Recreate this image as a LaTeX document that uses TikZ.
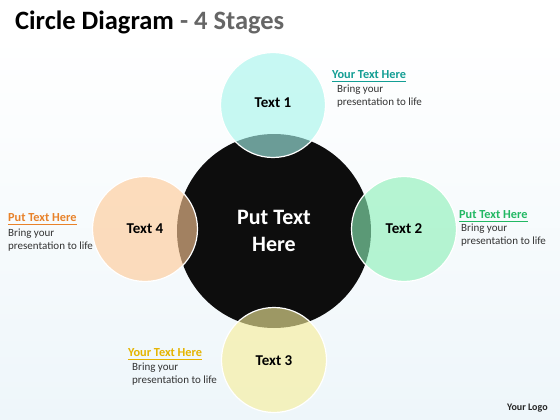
\documentclass[tikz,border=0pt]{standalone}
\usepackage{fontspec}
\setmainfont{Carlito}
\begin{document}
\begin{tikzpicture}[x=1pt,y=-1pt,
  stage/.style={circle,minimum size=105pt,inner sep=0pt,draw=white,line width=1.2pt,fill opacity=0.62},
  lbl/.style={font=\bfseries\fontsize{15}{17}\selectfont,text=black},
  head/.style={anchor=base west,inner sep=0pt,font=\bfseries\fontsize{12.3}{14}\selectfont},
  body/.style={anchor=north west,inner sep=0pt,align=left,text=black!80,font=\fontsize{11}{13}\selectfont}]
\definecolor{cA}{HTML}{A6F5EC}
\definecolor{cB}{HTML}{8CF0B8}
\definecolor{cC}{HTML}{F7EE9A}
\definecolor{cD}{HTML}{FFC995}
\definecolor{hA}{HTML}{139E94}
\definecolor{hB}{HTML}{22B863}
\definecolor{hC}{HTML}{E5B400}
\definecolor{hD}{HTML}{E8822A}
\definecolor{bgtop}{HTML}{FFFFFF}
\definecolor{bgbot}{HTML}{EEF6FA}
\useasboundingbox (0,0) rectangle (560,420);
\shade[top color=bgtop,bottom color=bgbot] (0,36) rectangle (560,420);
\fill[white] (0,0) rectangle (560,36);
\node[anchor=base west,inner sep=0pt,font=\bfseries\fontsize{26.5}{30}\selectfont] (title) at (15,30) {Circle Diagram \textcolor{black!60}{- 4 Stages}};
% center
\node[circle,minimum size=194pt,inner sep=0pt,fill=black!95,text=white,align=center,font=\bfseries\fontsize{22}{27}\selectfont] (c) at (274,231) {Put Text\\Here};
% stages
\node[stage,fill=cA] (s1) at (273,105) {};
\node[stage,fill=cB] (s2) at (404,229) {};
\node[stage,fill=cC] (s3) at (274,360) {};
\node[stage,fill=cD] (s4) at (145,229) {};
\node[lbl] (l1) at (273,103) {Text 1};
\node[lbl] (l2) at (404,229) {Text 2};
\node[lbl] (l3) at (274,361) {Text 3};
\node[lbl] (l4) at (145,229) {Text 4};
% annotations
\node[head,text=hA] (h1) at (332,79) {Your Text Here};
\draw[hA,line width=1pt] ([yshift=-3pt]h1.base west) -- ([yshift=-3pt]h1.base east);
\node[body] (b1) at (337,85) {Bring your\\presentation to life};
\node[head,text=hB] (h2) at (459,218) {Put Text Here};
\draw[hB,line width=1pt] ([yshift=-3pt]h2.base west) -- ([yshift=-3pt]h2.base east);
\node[body] (b2) at (461,224) {Bring your\\presentation to life};
\node[head,text=hD] (h4) at (8,221) {Put Text Here};
\draw[hD,line width=1pt] ([yshift=-3pt]h4.base west) -- ([yshift=-3pt]h4.base east);
\node[body] (b4) at (8,229) {Bring your\\presentation to life};
\node[head,text=hC] (h3) at (128,356) {Your Text Here};
\draw[hC,line width=1pt] ([yshift=-3pt]h3.base west) -- ([yshift=-3pt]h3.base east);
\node[body] (b3) at (132,363) {Bring your\\presentation to life};
\node[anchor=base west,inner sep=0pt,text=black!85,font=\bfseries\fontsize{10}{12}\selectfont] (logo) at (507,410) {Your Logo};
\end{tikzpicture}
\end{document}
